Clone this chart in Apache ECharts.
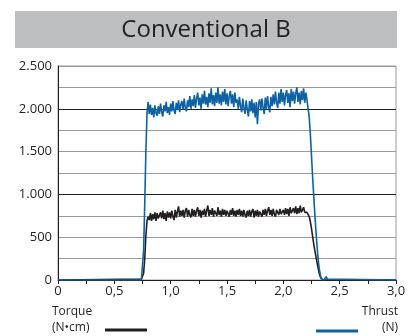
<!DOCTYPE html>
<html>
<head>
<meta charset="utf-8">
<script src="https://cdn.jsdelivr.net/npm/echarts@6/dist/echarts.min.js"></script>
<style>
  html, body { margin: 0; padding: 0; background: #fff; }
  #chart { width: 417px; height: 336px; }
</style>
</head>
<body>
<div id="chart"></div>
<script>
// time axis of the sampled part (s), the rest of the trace sits at 0
const tStart = 0.74
const tStep = 0.01
const tEnd = 3.0

// Thrust (N), one value per 0.01 s from 0.74 s to 2.40 s
const thrust = [
  0, 0, 350, 900, 1500, 1950,
  2080, 1940, 2050, 1930, 2010, 1900, 2040, 1950, 1920, 2030,
  1940, 2060, 1960, 1910, 2040, 1970, 2080, 1950, 2020, 1930,
  2060, 1970, 2090, 1980, 1940, 2070, 1990, 2100, 1960, 2050,
  2090, 1990, 2120, 2010, 1970, 2100, 2020, 2150, 2000, 2110,
  2030, 2160, 2010, 2120, 2190, 2040, 2130, 2000, 2170, 2060,
  2210, 2050, 2140, 2020, 2180, 2070, 2240, 2050, 2160, 2030,
  2190, 2070, 2250, 2060, 2170, 2040, 2200, 2080, 2230, 2050,
  2180, 2030, 2150, 2210, 2060, 2170, 2020, 2190, 2070, 2110,
  2000, 2140, 2030, 1960, 2120, 2010, 1940, 2100, 1990, 1910,
  2090, 1970, 2110, 1950, 2070, 1900, 2080, 1820, 2060, 2110,
  1980, 2120, 2010, 1940, 2130, 2000, 2150, 2020, 1960, 2140,
  2030, 2170, 2050, 2200, 2070, 2010, 2190, 2060, 2230, 2080,
  2190, 2040, 2160, 2220, 2070, 2180, 2020, 2230, 2090, 2200,
  2060, 2180, 2250, 2080, 2190, 2050, 2210, 2100, 2240, 2070,
  2190, 2100, 2090, 1900, 1700, 1450, 1200, 980, 760, 560,
  380, 230, 120, 50, 10, 0, 0, 20, 40, 10, 0
]

// Torque (N·cm), same sampling
const torque = [
  10, 20, 80, 250, 520, 690,
  740, 700, 780, 690, 770, 710, 790, 690, 780, 720,
  700, 790, 720, 810, 710, 780, 690, 800, 730, 790,
  720, 810, 740, 700, 820, 730, 800, 860, 740, 810,
  750, 820, 730, 810, 840, 740, 820, 760, 730, 830,
  750, 820, 740, 810, 850, 750, 820, 730, 810, 760,
  830, 740, 810, 870, 750, 820, 760, 840, 740, 810,
  820, 750, 850, 760, 810, 740, 830, 760, 820, 750,
  810, 830, 740, 820, 760, 840, 750, 810, 740, 820,
  760, 830, 750, 810, 740, 820, 760, 730, 810, 750,
  820, 740, 800, 830, 730, 810, 750, 820, 740, 800,
  810, 740, 820, 760, 830, 750, 810, 850, 760, 820,
  750, 830, 770, 740, 820, 840, 760, 830, 770, 750,
  820, 760, 840, 770, 830, 750, 850, 780, 770, 840,
  780, 860, 770, 840, 780, 870, 790, 770, 850, 790,
  810, 790, 780, 740, 680, 600, 510, 420, 340, 270,
  200, 130, 70, 30, 10, 0, 5, 0, 0, 0, 0
]

const yTicks = [0, 500, 1000, 1500, 2000, 2500]
const xTicks = [0, 0.5, 1.0, 1.5, 2.0, 2.5, 3.0]

// build [t, value] pairs, padded with zero at both ends
function toPairs(values) {
  let pts = [[0, 0]]
  values.forEach((v, i) => {
    pts.push([+(tStart + i * tStep).toFixed(2), v])
  })
  pts.push([tEnd, 0])
  return pts
}

let myChart = echarts.init(document.getElementById('chart'))
let font = 'Open Sans'
let option = {
  animation: false,
  grid: {
    left: 58,
    right: 21,
    top: 66,
    bottom: 56,
    show: true,
    borderColor: '#9a9a9a',
    borderWidth: 1
  },
  xAxis: {
    type: 'value',
    min: 0,
    max: 3,
    interval: 0.25,
    axisLine: { show: true, onZero: false, lineStyle: { color: '#231f20', width: 1 } },
    axisTick: { show: true, length: 4, lineStyle: { color: '#231f20' } },
    splitLine: { show: false },
    axisLabel: {
      color: '#231f20',
      fontFamily: font,
      fontSize: 13,
      margin: 5,
      formatter: v => {
        let hit = xTicks.find(x => Math.abs(x - v) < 1e-6)
        if (hit === undefined) return ''
        return hit === 0 ? '0' : hit.toFixed(1).replace('.', ',')
      }
    }
  },
  yAxis: {
    type: 'value',
    min: 0,
    max: 2500,
    interval: 250,
    axisLine: { show: true, lineStyle: { color: '#231f20', width: 1 } },
    axisTick: { show: false },
    splitLine: {
      show: true,
      // every 1000 is drawn dark
      lineStyle: { color: ['#231f20', '#9a9a9a', '#9a9a9a', '#9a9a9a'], width: 1 }
    },
    axisLabel: {
      color: '#231f20',
      fontFamily: font,
      fontSize: 13,
      margin: 6,
      formatter: v => (yTicks.indexOf(v) >= 0 ? String(v).replace(/\B(?=(\d{3})+(?!\d))/g, '.') : '')
    }
  },
  series: [
    {
      name: 'Torque',
      type: 'line',
      data: toPairs(torque),
      showSymbol: false,
      lineStyle: { color: '#231f20', width: 1.6 }
    },
    {
      name: 'Thrust',
      type: 'line',
      data: toPairs(thrust),
      showSymbol: false,
      lineStyle: { color: '#0d62a6', width: 1.6 }
    }
  ],
  graphic: [
    {
      type: 'rect',
      shape: { x: 15, y: 11, width: 382, height: 37 },
      style: { fill: '#bcbec0' }
    },
    {
      type: 'text',
      x: 206,
      y: 30,
      style: {
        text: 'Conventional B',
        fill: '#231f20',
        font: '24px "Open Sans"',
        align: 'center',
        verticalAlign: 'middle'
      }
    },
    {
      type: 'text',
      x: 52,
      y: 312,
      style: { text: 'Torque', fill: '#231f20', font: '12px "Open Sans"', verticalAlign: 'middle' }
    },
    {
      type: 'text',
      x: 52,
      y: 328,
      style: { text: '(N•cm)', fill: '#231f20', font: '12px "Open Sans"', verticalAlign: 'middle' }
    },
    {
      type: 'line',
      shape: { x1: 105, y1: 330, x2: 147, y2: 330 },
      style: { stroke: '#231f20', lineWidth: 3 }
    },
    {
      type: 'text',
      x: 398,
      y: 312,
      style: { text: 'Thrust', fill: '#231f20', font: '12px "Open Sans"', align: 'right', verticalAlign: 'middle' }
    },
    {
      type: 'text',
      x: 398,
      y: 328,
      style: { text: '(N)', fill: '#231f20', font: '12px "Open Sans"', align: 'right', verticalAlign: 'middle' }
    },
    {
      type: 'line',
      shape: { x1: 316, y1: 331, x2: 358, y2: 331 },
      style: { stroke: '#0d62a6', lineWidth: 3 }
    }
  ]
}
myChart.setOption(option)
</script>
</body>
</html>
